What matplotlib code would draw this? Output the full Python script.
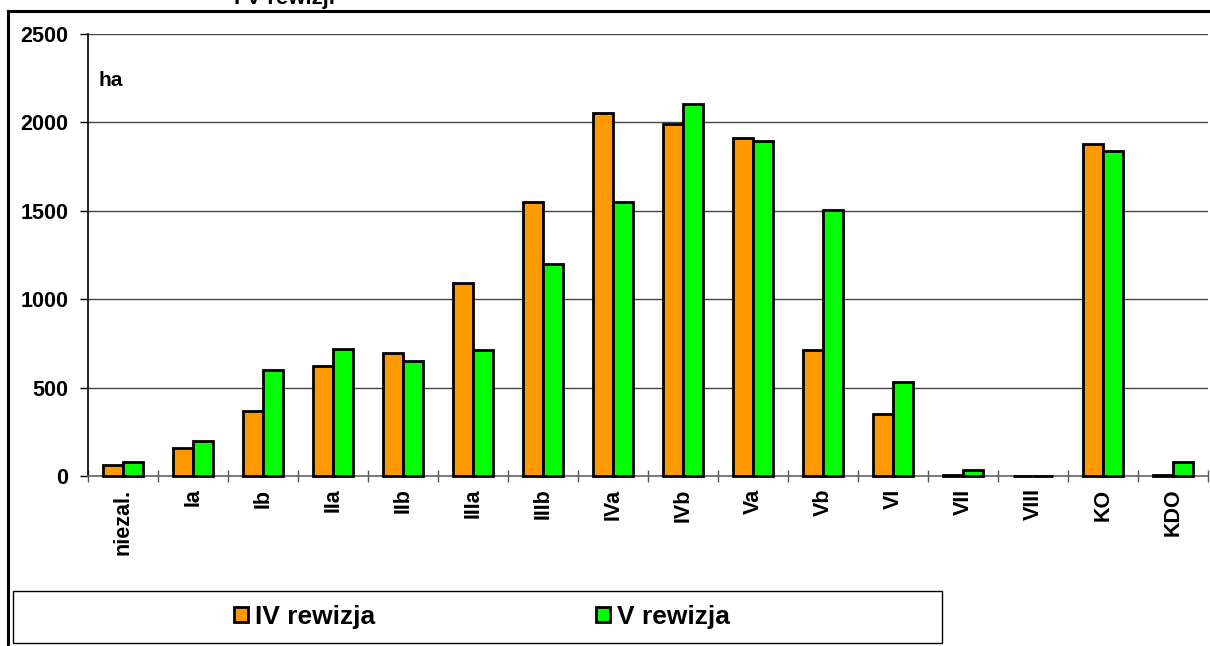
import matplotlib
matplotlib.use("Agg")
import matplotlib.pyplot as plt
import numpy as np
from matplotlib.lines import Line2D
from matplotlib.patches import Rectangle

categories = ["niezal.", "Ia", "Ib", "IIa", "IIb", "IIIa", "IIIb", "IVa", "IVb",
              "Va", "Vb", "VI", "VII", "VIII", "KO", "KDO"]
iv_rewizja = [65, 160, 370, 625, 697, 1090, 1548, 2052, 1990, 1912, 713, 352, 5, 2, 1878, 5]
v_rewizja = [80, 200, 600, 720, 648, 712, 1197, 1547, 2102, 1893, 1502, 530, 35, 2, 1838, 80]
series_names = ["IV rewizja", "V rewizja"]
yticks = [0, 500, 1000, 1500, 2000, 2500]

plt.rcParams['font.family'] = ['Liberation Sans', 'DejaVu Sans']
plt.rcParams['font.weight'] = 'bold'

W, H = 1210, 646
fig = plt.figure(figsize=(W / 100, H / 100), dpi=100)
ax = fig.add_axes([88 / W, (H - 476) / H, (1208 - 88) / W, (476 - 34) / H])

x = np.arange(len(categories))
w = 0.286
b1 = ax.bar(x - w / 2, iv_rewizja, w, color="#FF9900", edgecolor="black", linewidth=2.0,
            label=series_names[0], zorder=3, clip_on=False)
b2 = ax.bar(x + w / 2, v_rewizja, w, color="#00FF00", edgecolor="black", linewidth=2.0,
            label=series_names[1], zorder=3, clip_on=False)

ax.set_xlim(-0.5, len(categories) - 0.5)
ax.set_ylim(0, 2500)
ax.set_yticks(yticks)
ax.set_yticklabels([str(v) for v in yticks], fontsize=15.5, fontweight='bold')
ax.yaxis.grid(True, color="#444444", linewidth=1.0, zorder=0)
ax.set_axisbelow(True)

ax.set_xticks(x)
ax.set_xticklabels(categories, rotation=90, fontsize=15.5, fontweight='bold', va='top')
ax.set_xticks(np.arange(-0.5, len(categories) + 0.5, 1.0), minor=True)
ax.tick_params(axis='x', which='major', length=0, pad=9)
ax.tick_params(axis='x', which='minor', direction='inout', length=9, color="#555555", width=1)
ax.tick_params(axis='y', which='major', direction='out', length=6, color='black', width=1, pad=8)

for s in ['top', 'right']:
    ax.spines[s].set_visible(False)
ax.spines['bottom'].set_color("#666666")
ax.spines['bottom'].set_linewidth(1.2)
ax.spines['left'].set_color("black")
ax.spines['left'].set_linewidth(1.2)

ax.text(0.009, 0.895, "ha", transform=ax.transAxes, fontsize=15, fontweight='bold',
        ha='left', va='center')

# title partially cut off at top (as in the source image)
fig.text(285 / W, 1 - 4 / H, "I V rewizji", fontsize=16, fontweight='bold',
         ha='center', va='baseline')

# outer chart border (top and left)
fig.add_artist(Line2D([8 / W, 1.0], [1 - 11 / H, 1 - 11 / H], color='black', lw=2.2,
                      transform=fig.transFigure))
fig.add_artist(Line2D([8 / W, 8 / W], [0, 1 - 11 / H], color='black', lw=2.2,
                      transform=fig.transFigure))

# legend box
fig.add_artist(Rectangle((13 / W, (H - 643) / H), (942 - 13) / W, (643 - 591) / H,
                         transform=fig.transFigure, fill=False, edgecolor='black', lw=1.0))
leg = fig.legend(handles=[b1, b2], labels=series_names, loc='center',
                 bbox_to_anchor=(482 / W, (H - 617) / H), ncol=2, frameon=False,
                 prop={'size': 19, 'weight': 'bold'}, handlelength=0.5, handleheight=0.5,
                 handletextpad=0.27, columnspacing=8.4, borderpad=0)

fig.savefig("out.png", dpi=100)
